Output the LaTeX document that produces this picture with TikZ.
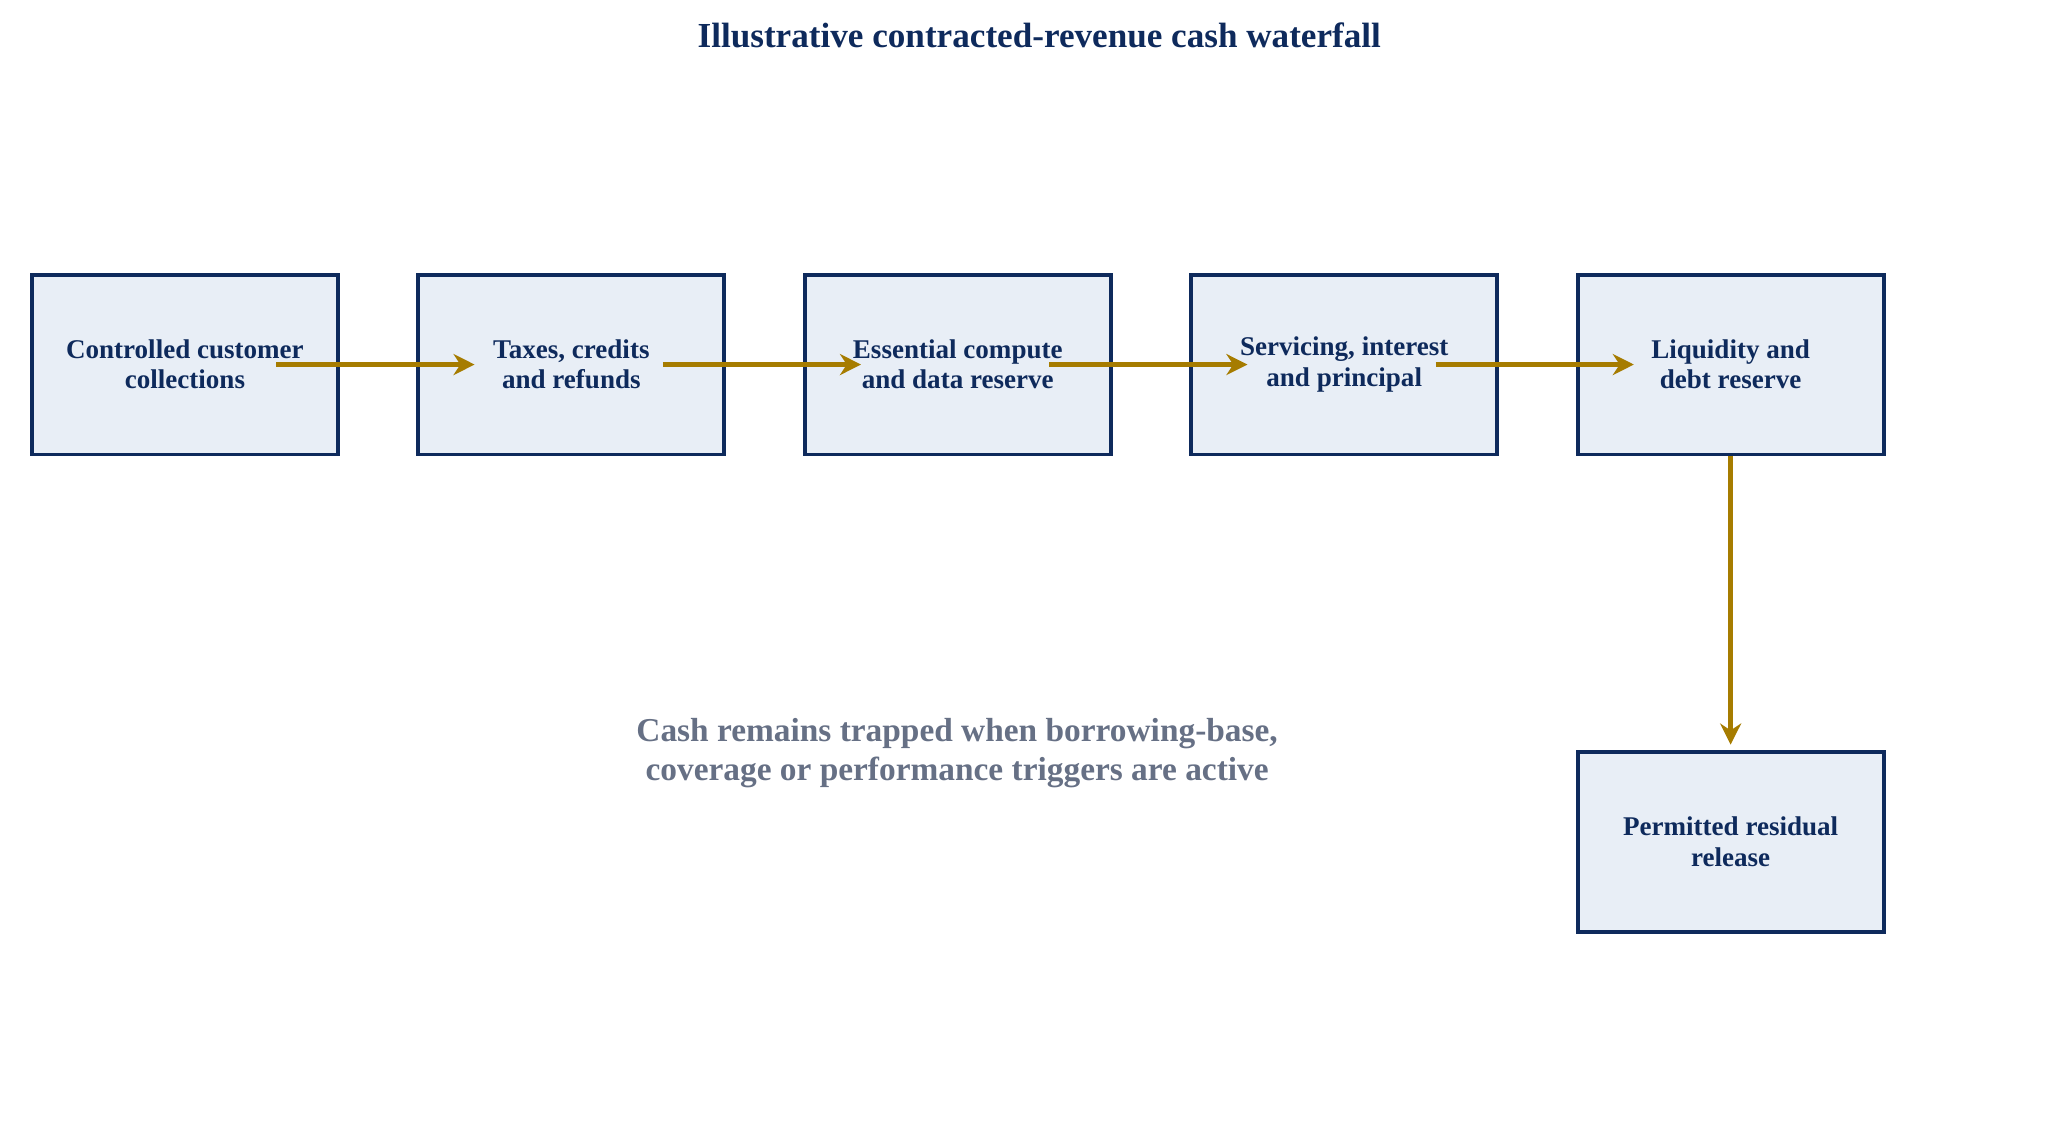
\documentclass[tikz,border=0pt]{standalone}
\usepackage{fontspec}
\setmainfont{Liberation Serif}
\usetikzlibrary{calc,arrows.meta}
\definecolor{navy}{HTML}{0E2A5C}
\definecolor{boxfill}{HTML}{E8EEF6}
\definecolor{gold}{HTML}{A67C00}
\definecolor{note}{HTML}{667085}
\tikzset{
  stage/.style={draw=navy, fill=boxfill, line width=1.1pt, minimum width=3.06cm, minimum height=1.8cm,
    align=center, font=\fontsize{7.7}{8.6}\selectfont\bfseries, text=navy},
  flow/.style={draw=gold, line width=1.4pt, -{Stealth[length=6pt,width=6pt]}}
}
\begin{document}
\begin{tikzpicture}[x=0.013256cm, y=-0.013256cm]
  \useasboundingbox (0,0) rectangle (1560,863);
  \node[font=\fontsize{10}{12}\selectfont\bfseries, text=navy] (title) at (784,27) {Illustrative contracted-revenue cash waterfall};
  \node[stage] (collect) at (139.5,275) {Controlled customer\\collections};
  \node[stage] (taxes) at (431,275) {Taxes, credits\\and refunds};
  \node[stage] (compute) at (722.5,275) {Essential compute\\and data reserve};
  \node[stage] (service) at (1014,275) {Servicing, interest\\and principal};
  \node[stage] (liquid) at (1305.5,275) {Liquidity and\\debt reserve};
  \node[stage] (resid) at (1305.5,635) {Permitted residual\\release};
  \node[font=\fontsize{9.5}{11}\selectfont\bfseries, text=note, align=center] (trap) at (722,568)
    {Cash remains trapped when borrowing-base,\\coverage or performance triggers are active};
  % main chain
  \foreach \a/\b in {collect/taxes, taxes/compute, compute/service, service/liquid}
    \draw[flow] ($(\a.center)+(69,0)$) -- ($(\b.center)+(-73,0)$);
  \draw[flow] (liquid.south) -- ($(resid.north)+(0,-4)$);
\end{tikzpicture}
\end{document}
